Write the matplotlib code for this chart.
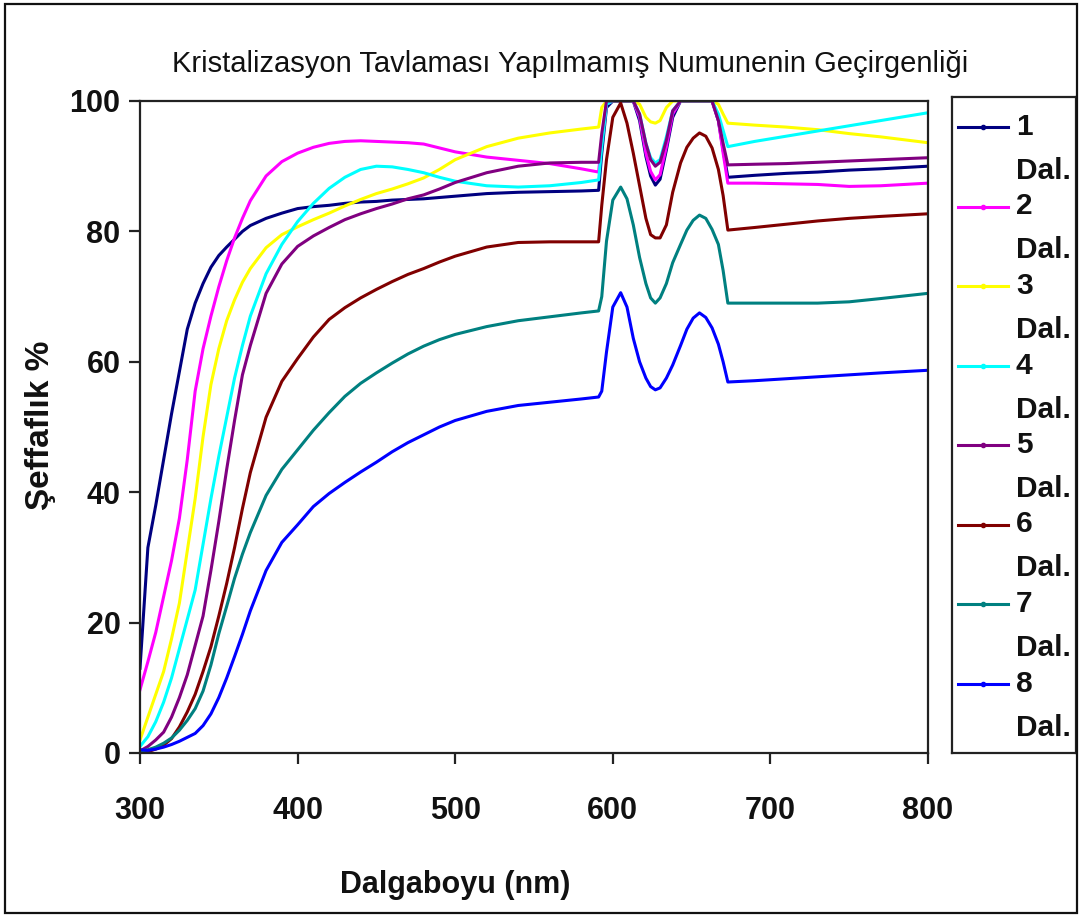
import matplotlib
matplotlib.use("Agg")
import matplotlib.pyplot as plt
from matplotlib.patches import Rectangle

# Wavelength grid (nm)
wavelength = [300, 305, 310, 315, 320, 325, 330, 335, 340, 345, 350, 355, 360, 365, 370,
              380, 390, 400, 410, 420, 430, 440, 450, 460, 470, 480, 490, 500,
              520, 540, 560, 580, 591,
              593, 596, 600, 605, 609, 613, 617, 621, 624, 627, 630, 634, 638, 643,
              647, 651, 655, 659, 663, 667, 670, 673,
              690, 710, 730, 750, 770, 800]

# Transmittance (%) for each dip count
t1 = [13, 31.5, 38, 45, 52, 58.5, 65, 69, 72, 74.5, 76.3, 77.6, 78.8, 80, 80.9,
      82, 82.8, 83.5, 83.8, 84, 84.3, 84.5, 84.6, 84.8, 84.9, 85, 85.2, 85.4,
      85.8, 86, 86.1, 86.2, 86.3,
      92, 99, 100, 100, 100, 100, 97, 91.5, 88.5, 87.1, 88, 92.5, 97.5, 100,
      100, 100, 100, 100, 100, 97, 92.5, 88.3,
      88.6, 88.9, 89.1, 89.4, 89.6, 90]
t2 = [9.7, 14, 18.5, 24, 29.5, 36, 45, 55.5, 62, 67, 71.5, 75.5, 79, 82, 84.7,
      88.5, 90.7, 92, 92.9, 93.5, 93.8, 93.9, 93.8, 93.7, 93.6, 93.4, 92.8, 92.2,
      91.4, 90.9, 90.4, 89.6, 89.1,
      94, 99.5, 100, 100, 100, 100, 97.5, 92, 89.2, 87.9, 88.7, 93, 98, 100,
      100, 100, 100, 100, 100, 97, 92, 87.4,
      87.4, 87.3, 87.2, 86.9, 87.0, 87.4]
t3 = [2, 5.5, 9, 12.5, 17.5, 23, 31, 39, 48.5, 56.5, 62, 66.3, 69.5, 72.2, 74.3,
      77.5, 79.5, 80.7, 81.8, 82.8, 83.9, 84.9, 85.8, 86.5, 87.3, 88.2, 89.5, 91,
      93, 94.3, 95.1, 95.7, 96,
      99, 100, 100, 100, 100, 100, 99.5, 97.5, 96.8, 96.6, 97, 99, 100, 100,
      100, 100, 100, 100, 100, 99.5, 98, 96.6,
      96.3, 96, 95.6, 95, 94.5, 93.6]
t4 = [1, 2.5, 4.8, 7.8, 11.5, 16, 20.5, 25, 32, 39, 45.5, 51.5, 57.5, 62.5, 67,
      73.5, 78, 81.5, 84.3, 86.6, 88.3, 89.5, 90, 89.9, 89.5, 89, 88.3, 87.7,
      87, 86.8, 87, 87.5, 87.9,
      93, 99.5, 100, 100, 100, 100, 98, 93.5, 91.3, 90.5, 91, 94.5, 98.5, 100,
      100, 100, 100, 100, 100, 98, 95.5, 93,
      93.8, 94.6, 95.4, 96.2, 97, 98.2]
t5 = [0.3, 1, 2, 3.2, 5.5, 8.5, 12, 16.5, 21, 28, 35.5, 43.5, 51, 58, 62.5,
      70.5, 75, 77.7, 79.3, 80.6, 81.8, 82.7, 83.5, 84.2, 85, 85.6, 86.5, 87.5,
      89, 90, 90.5, 90.6, 90.6,
      95, 100, 100, 100, 100, 100, 98, 93.5, 91, 90, 90.6, 94, 98.5, 100,
      100, 100, 100, 100, 100, 97, 93.5, 90.2,
      90.3, 90.4, 90.6, 90.8, 91, 91.3]
t6 = [0, 0.2, 0.6, 1.2, 2.2, 4, 6.3, 9, 12.5, 16.3, 21, 26, 31.5, 37.5, 43,
      51.5, 57, 60.5, 63.8, 66.5, 68.3, 69.8, 71.1, 72.3, 73.4, 74.3, 75.3, 76.2,
      77.6, 78.3, 78.4, 78.4, 78.4,
      84, 91, 97.5, 99.7, 96.6, 92, 87, 82, 79.5, 79, 79, 81, 86, 90.5,
      92.9, 94.3, 95.1, 94.6, 92.8, 89.5, 85.5, 80.2,
      80.6, 81.1, 81.6, 82, 82.3, 82.7]
t7 = [0.3, 0.5, 0.9, 1.5, 2.3, 3.5, 5, 6.8, 9.5, 13.5, 18.3, 22.5, 26.8, 30.5, 33.8,
      39.5, 43.5, 46.5, 49.5, 52.2, 54.7, 56.7, 58.3, 59.8, 61.2, 62.4, 63.4, 64.2,
      65.4, 66.3, 66.9, 67.5, 67.8,
      70, 78.5, 84.8, 86.8, 85, 81, 76, 72, 69.8, 69, 69.8, 72, 75.2, 78,
      80.2, 81.7, 82.5, 82, 80.3, 78, 74, 69,
      69, 69, 69, 69.2, 69.7, 70.5]
t8 = [0.5, 0.4, 0.6, 0.9, 1.3, 1.8, 2.4, 3, 4.2, 6, 8.5, 11.5, 14.8, 18.2, 21.8,
      28, 32.3, 35, 37.8, 39.8, 41.5, 43.1, 44.6, 46.2, 47.6, 48.8, 50, 51,
      52.4, 53.3, 53.8, 54.3, 54.6,
      55.5, 61.5, 68.4, 70.6, 68.4, 63.6, 60, 57.5, 56.2, 55.7, 56, 57.5, 59.5, 62.5,
      65, 66.7, 67.5, 66.8, 65.2, 62.7, 60, 56.9,
      57.1, 57.4, 57.7, 58, 58.3, 58.7]

series = [t1, t2, t3, t4, t5, t6, t7, t8]
labels = ["1 Dal.", "2 Dal.", "3 Dal.", "4 Dal.", "5 Dal.", "6 Dal.", "7 Dal.", "8 Dal."]
colors = ["#000080", "#FF00FF", "#FFFF00", "#00FFFF", "#800080", "#800000", "#008080", "#0000FF"]

x_ticks = [300, 400, 500, 600, 700, 800]
y_ticks = [0, 20, 40, 60, 80, 100]

title = "Kristalizasyon Tavlaması Yapılmamış Numunenin Geçirgenliği"
x_title = "Dalgaboyu (nm)"
y_title = "Şeffaflık %"

FONT = ["Liberation Sans", "DejaVu Sans"]

W, H = 1081, 918
fig = plt.figure(figsize=(W / 100, H / 100), dpi=100)
fig.patch.set_facecolor("white")

def fx(px):
    return px / W

def fy(py):
    return 1 - py / H

# plot area
ax = fig.add_axes([fx(140), fy(753), fx(928) - fx(140), fy(101) - fy(753)])
for vals, col in zip(series, colors):
    ax.plot(wavelength, vals, color=col, lw=2.2, solid_joinstyle="round")

ax.set_xlim(300, 800)
ax.set_ylim(0, 100)
ax.set_xticks(x_ticks)
ax.set_yticks(y_ticks)
for sp in ax.spines.values():
    sp.set_color("#222222")
    sp.set_linewidth(1.6)
ax.tick_params(axis="both", direction="out", length=8, width=1.6, color="#222222")
ax.tick_params(axis="x", pad=23)
ax.tick_params(axis="y", pad=6)
for lab in ax.get_xticklabels() + ax.get_yticklabels():
    lab.set_fontfamily(FONT)
    lab.set_fontweight("bold")
    lab.set_fontsize(22)
    lab.set_color("#111111")

# titles
fig.text(fx(570), fy(72), title, ha="center", va="baseline",
         fontsize=21, family=FONT, color="#111111")
fig.text(fx(455), fy(893), x_title, ha="center", va="baseline",
         fontsize=22, fontweight="bold", family=FONT, color="#111111")
fig.text(fx(41), fy(425), y_title, ha="center", va="center", rotation=90,
         fontsize=24, fontweight="bold", family=FONT, color="#111111")

# legend panel
lx0, lx1, ly0, ly1 = 952, 1076, 97, 753
lax = fig.add_axes([fx(lx0), fy(ly1), fx(lx1) - fx(lx0), fy(ly0) - fy(ly1)])
lax.set_xlim(0, lx1 - lx0)
lax.set_ylim(ly1 - ly0, 0)
lax.set_xticks([])
lax.set_yticks([])
for sp in lax.spines.values():
    sp.set_color("#222222")
    sp.set_linewidth(1.6)
for i, (lab, col) in enumerate(zip(labels, colors)):
    yy = 30 + 79.5 * i
    num, word = lab.split(" ")
    lax.plot([6, 31, 56], [yy, yy, yy], color=col, lw=2.2,
             marker="o", markersize=3, markevery=[1])
    lax.text(64, yy, num, ha="left", va="center", fontsize=21.5,
             fontweight="bold", family=FONT, color="#111111")
    lax.text(64, yy + 44, word, ha="left", va="center", fontsize=21.5,
             fontweight="bold", family=FONT, color="#111111")

# chart border
fig.patches.append(Rectangle((fx(5), fy(913)), fx(1077) - fx(5), fy(4) - fy(913),
                             transform=fig.transFigure, fill=False,
                             edgecolor="#111111", linewidth=1.6))

fig.savefig("out.png", dpi=100)
